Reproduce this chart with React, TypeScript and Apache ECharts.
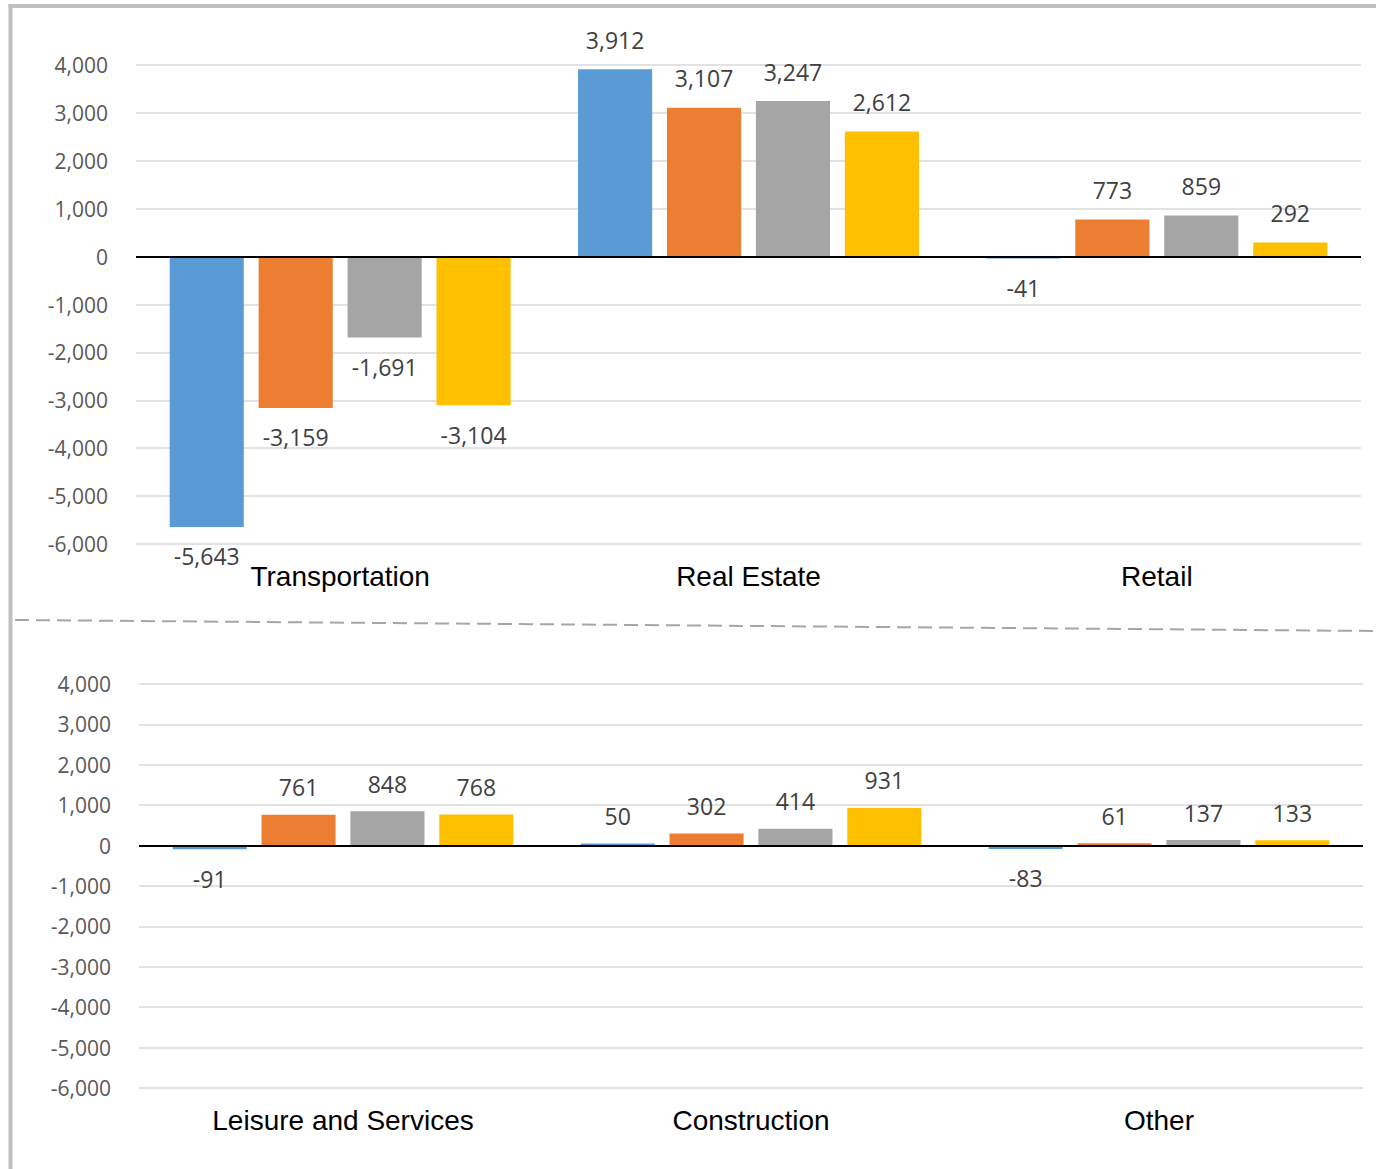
import React, { useEffect, useRef } from "react";
import * as echarts from "echarts";

const CATEGORIES_TOP = ["Transportation", "Real Estate", "Retail"];
const CATEGORIES_BOTTOM = ["Leisure and Services", "Construction", "Other"];

const SERIES_NAMES = ["Series 1", "Series 2", "Series 3", "Series 4"];
const SERIES_COLORS = ["#5B9BD5", "#ED7D31", "#A5A5A5", "#FFC000"];

const TOP_S1 = [-5643, 3912, -41];
const TOP_S2 = [-3159, 3107, 773];
const TOP_S3 = [-1691, 3247, 859];
const TOP_S4 = [-3104, 2612, 292];

const BOTTOM_S1 = [-91, 50, -83];
const BOTTOM_S2 = [761, 302, 61];
const BOTTOM_S3 = [848, 414, 137];
const BOTTOM_S4 = [768, 931, 133];

const Y_MIN = -6000;
const Y_MAX = 4000;
const Y_INTERVAL = 1000;

const TOP_SERIES = [TOP_S1, TOP_S2, TOP_S3, TOP_S4];
const BOTTOM_SERIES = [BOTTOM_S1, BOTTOM_S2, BOTTOM_S3, BOTTOM_S4];

const fmt = (v: number) => v.toLocaleString("en-US");

const NUM_FONT = "'Open Sans', 'Noto Sans', sans-serif";
const CAT_FONT = "'Liberation Sans', Arial, sans-serif";

function buildSeries(values: number[][], gridIdx: number) {
  return values.map((vals, i) => ({
    name: SERIES_NAMES[i],
    type: "bar",
    xAxisIndex: gridIdx,
    yAxisIndex: gridIdx,
    barGap: "20%",
    barCategoryGap: "16.5%",
    itemStyle: { color: SERIES_COLORS[i] },
    label: {
      show: true,
      formatter: (p: any) => fmt(p.value),
      color: "#404040",
      fontSize: 23,
      fontFamily: NUM_FONT,
    },
    data: vals.map((v) => ({
      value: v,
      label: v >= 0 ? { position: "top", distance: gridIdx === 0 ? 18 : 16 } : { position: "bottom", distance: 18 },
    })),
    markLine:
      i === 0
        ? {
            silent: true,
            symbol: "none",
            label: { show: false },
            lineStyle: { color: "#000000", width: 1.8, type: "solid" },
            data: [{ yAxis: 0 }],
            z: 10,
          }
        : undefined,
  }));
}

export default function App() {
  const ref = useRef<HTMLDivElement>(null);

  useEffect(() => {
    if (!ref.current) return;
    const chart = echarts.init(ref.current, undefined, { renderer: "svg" });

    const xAxisCommon = {
      type: "category",
      axisLine: { show: false, onZero: false },
      axisTick: { show: false },
      axisLabel: { color: "#000000", fontSize: 28, fontFamily: CAT_FONT, margin: 18 },
      splitLine: { show: false },
    };
    const yAxisCommon = {
      type: "value",
      min: Y_MIN,
      max: Y_MAX,
      interval: Y_INTERVAL,
      axisLine: { show: false },
      axisTick: { show: false },
      axisLabel: {
        color: "#595959",
        fontSize: 21,
        fontFamily: NUM_FONT,
        margin: 28,
        formatter: (v: number) => fmt(v),
      },
      splitLine: { lineStyle: { color: "#D9D9D9", width: 1.5 } },
    };

    chart.setOption({
      animation: false,
      backgroundColor: "#ffffff",
      grid: [
        { left: 136, right: 15, top: 65, height: 479 },
        { left: 139, right: 13, top: 684, height: 404 },
      ],
      xAxis: [
        { ...xAxisCommon, gridIndex: 0, data: CATEGORIES_TOP },
        { ...xAxisCommon, gridIndex: 1, data: CATEGORIES_BOTTOM },
      ],
      yAxis: [
        { ...yAxisCommon, gridIndex: 0 },
        { ...yAxisCommon, gridIndex: 1 },
      ],
      series: [...buildSeries(TOP_SERIES, 0), ...buildSeries(BOTTOM_SERIES, 1)],
      graphic: [
        {
          type: "line",
          silent: true,
          shape: { x1: 10.5, y1: 4, x2: 10.5, y2: 1169 },
          style: { stroke: "#BFBFBF", lineWidth: 4 },
        },
        {
          type: "line",
          silent: true,
          shape: { x1: 8.5, y1: 6, x2: 1376, y2: 6 },
          style: { stroke: "#BFBFBF", lineWidth: 4 },
        },
        {
          type: "line",
          silent: true,
          shape: { x1: 15, y1: 620, x2: 1376, y2: 631 },
          style: { stroke: "#A6A6A6", lineWidth: 2, lineDash: [14, 7] },
        },
      ],
    });

    return () => chart.dispose();
  }, []);

  return (
    <div
      ref={ref}
      style={{ position: "absolute", left: 0, top: 0, width: 1376, height: 1169, background: "#fff" }}
    />
  );
}
